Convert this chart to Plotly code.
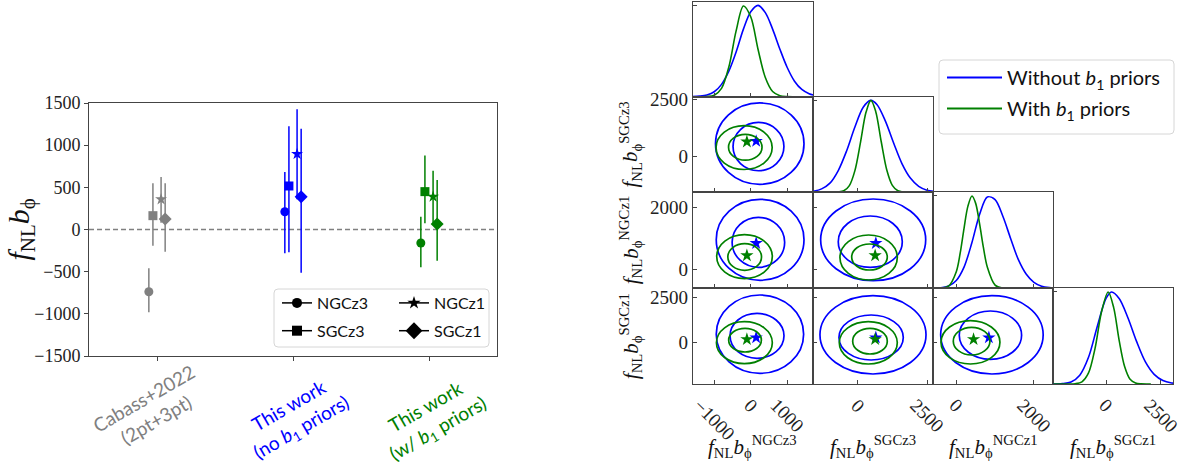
import plotly.graph_objects as go

# ---------------- data: left panel (f_NL b_phi estimates) ----------------
groups = ["Cabass+2022<br>(2pt+3pt)",
          "This work<br>(no <i>b</i><sub>1</sub> priors)",
          "This work<br>(w/ <i>b</i><sub>1</sub> priors)"]
samples = ["NGCz3", "SGCz3", "NGCz1", "SGCz1"]
# central values, one list per group, in the order of `samples`
fnl_cabass = [-738, 164, 358, 124]
fnl_noprior = [211, 516, 895, 389]
fnl_prior = [-160, 449, 389, 65]
# upper / lower ends of the error bars
hi_cabass = [-460, 548, 623, 548]
lo_cabass = [-982, -192, 80, -263]
hi_noprior = [682, 1224, 1426, 1195]
lo_noprior = [-283, -271, 360, -512]
hi_prior = [152, 876, 698, 587]
lo_prior = [-448, 73, 80, -370]
ytick_vals = [-1500, -1000, -500, 0, 500, 1000, 1500]
reference_level = 0

# ---------------- data: corner plot ----------------
params = ["NGCz3", "SGCz3", "NGCz1", "SGCz1"]
# 1D marginal posteriors (normalised to peak 1)
ngcz3_x_blue = [-1590, -1400, -1200, -1000, -800, -600, -400, -200, 0, 200, 400, 600, 800, 1000, 1200, 1400, 1600, 1715]
ngcz3_p_blue = [0.001, 0.006, 0.019, 0.054, 0.135, 0.28, 0.49, 0.74, 0.93, 1.0, 0.92, 0.74, 0.52, 0.32, 0.17, 0.079, 0.032, 0.018]
ngcz3_x_green = [-1590, -1400, -1200, -1000, -800, -600, -400, -200, 0, 200, 400, 600, 800, 1000, 1250]
ngcz3_p_green = [0.0, 0.0, 0.002, 0.016, 0.091, 0.325, 0.72, 0.993, 0.875, 0.52, 0.21, 0.057, 0.011, 0.001, 0.0]

sgcz3_x_blue = [-1600, -1300, -1000, -700, -400, -100, 200, 470, 700, 1000, 1300, 1600, 1900, 2200, 2500, 2727]
sgcz3_p_blue = [0.011, 0.037, 0.10, 0.237, 0.45, 0.71, 0.926, 1.0, 0.953, 0.774, 0.533, 0.31, 0.155, 0.065, 0.023, 0.010]
sgcz3_x_green = [-1600, -900, -700, -500, -300, -100, 100, 300, 478, 650, 850, 1050, 1250, 1450, 1650, 1850, 2400]
sgcz3_p_green = [0.0, 0.0, 0.003, 0.016, 0.073, 0.236, 0.54, 0.87, 1.0, 0.88, 0.55, 0.243, 0.076, 0.017, 0.003, 0.0, 0.0]

ngcz1_x_blue = [-592, -400, -200, 0, 200, 400, 600, 800, 1000, 1200, 1400, 1600, 1800, 2000, 2200, 2400, 2500]
ngcz1_p_blue = [0.001, 0.005, 0.024, 0.085, 0.23, 0.49, 0.80, 0.99, 0.96, 0.78, 0.54, 0.31, 0.155, 0.065, 0.023, 0.007, 0.004]
ngcz1_x_green = [-592, -400, -200, 0, 100, 200, 300, 405, 500, 600, 700, 800, 1000, 1200, 1400, 1750]
ngcz1_p_green = [0.0, 0.001, 0.023, 0.18, 0.38, 0.65, 0.89, 1.0, 0.92, 0.70, 0.44, 0.23, 0.035, 0.003, 0.0, 0.0]

sgcz1_x_blue = [-2410, -2000, -1600, -1200, -800, -400, 0, 250, 600, 1000, 1400, 1800, 2200, 2600, 3000, 3075]
sgcz1_p_blue = [0.0, 0.004, 0.022, 0.096, 0.29, 0.625, 0.93, 1.0, 0.93, 0.72, 0.46, 0.24, 0.105, 0.038, 0.011, 0.009]
sgcz1_x_green = [-2410, -1800, -1400, -1100, -800, -500, -200, 100, 350, 600, 850, 1100, 1350, 1600, 2050]
sgcz1_p_green = [0.0, 0.0, 0.003, 0.024, 0.12, 0.39, 0.79, 1.0, 0.83, 0.475, 0.19, 0.051, 0.01, 0.001, 0.0]

# 2D credible contours: [x_lo, x_hi, y_lo, y_hi] (outer then inner), keyed by (row, col)
contours_blue = {
    (1, 0): [[-965, 1460, -1250, 2340], [-485, 910, -650, 1480]],
    (2, 0): [[-945, 1460, -355, 2258], [-510, 930, 64, 1677]],
    (2, 1): [[-1335, 2453, -368, 2268], [-700, 1609, 64, 1719]],
    (3, 0): [[-945, 1450, -1674, 2609], [-567, 912, -853, 1600]],
    (3, 1): [[-1360, 2464, -1713, 2572], [-675, 1645, -947, 1515]],
    (3, 2): [[-402, 2239, -1713, 2572], [77, 1683, -908, 1734]],
}
contours_green = {
    (1, 0): [[-950, 588, -595, 1340], [-608, 310, -183, 955]],
    (2, 0): [[-932, 592, -300, 1118], [-627, 296, -34, 828]],
    (2, 1): [[-639, 1429, -345, 1106], [-216, 1068, -23, 816]],
    (3, 0): [[-940, 592, -1145, 1149], [-604, 292, -510, 788]],
    (3, 1): [[-663, 1429, -1165, 1149], [-180, 1068, -618, 788]],
    (3, 2): [[-394, 1125, -1165, 1204], [-77, 867, -673, 843]],
}
# best-fit points (stars)
best_blue = [149, 655, 840, 280]
best_green = [-105, 630, 445, 186]

corner_ticks = [[-1000, 0, 1000], [0, 2500], [0, 2000], [0, 2500]]
corner_xrange = [[-1590, 1715], [-1600, 2727], [-592, 2500], [-2410, 3075]]
corner_yrange = [None, [-1600, 2615], [-613, 2484], [-2260, 2976]]

# ---------------- styling ----------------
W, H = 1183, 465
GRAY, BLUE, GREEN = "#808080", "#0000ff", "#008000"
group_colors = [GRAY, BLUE, GREEN]
sample_symbols = ["circle", "square", "star", "diamond"]
sample_sizes = [9, 9, 9, 10]
legend_sizes = [10, 10, 10, 13]
sample_offsets = [-0.06, -0.03, 0.03, 0.06]
SERIF = "Liberation Serif, DejaVu Serif, serif"
SANS = "Lato, Open Sans, sans-serif"
SPINE = "#444444"


def px2x(px):
    return px / W


def px2y(py):
    return 1 - py / H


fig = go.Figure()

# ---------- left panel ----------
fnl = [fnl_cabass, fnl_noprior, fnl_prior]
his = [hi_cabass, hi_noprior, hi_prior]
los = [lo_cabass, lo_noprior, lo_prior]
for g in range(len(groups)):
    for s in range(len(samples)):
        v = fnl[g][s]
        fig.add_trace(go.Scatter(
            x=[g + sample_offsets[s]], y=[v], mode="markers",
            marker=dict(symbol=sample_symbols[s], size=sample_sizes[s], color=group_colors[g],
                        line=dict(width=0)),
            error_y=dict(type="data", symmetric=False, array=[his[g][s] - v],
                         arrayminus=[v - los[g][s]], color=group_colors[g], thickness=1.5, width=0),
            xaxis="x", yaxis="y", showlegend=False, hoverinfo="skip"))

# legend entries for the samples (two columns -> two legends)
for s in range(len(samples)):
    fig.add_trace(go.Scatter(
        x=[None], y=[None], mode="lines+markers", name=samples[s],
        marker=dict(symbol=sample_symbols[s], size=legend_sizes[s], color="black"),
        line=dict(color="black", width=1.5),
        xaxis="x", yaxis="y", legend="legend" if s < 2 else "legend2",
        legendgroup=samples[s], showlegend=True))

# ---------- corner plot ----------
LEFT = [692.7, 813.3, 933.3, 1053.3, 1173.3]
TOP = [1.7, 96.7, 192.3, 288.3, 384.0]

axis_id = {}
n = 2
for r in range(4):
    for c in range(r + 1):
        axis_id[(r, c)] = n
        n += 1

marg_x_blue = [ngcz3_x_blue, sgcz3_x_blue, ngcz1_x_blue, sgcz1_x_blue]
marg_p_blue = [ngcz3_p_blue, sgcz3_p_blue, ngcz1_p_blue, sgcz1_p_blue]
marg_x_green = [ngcz3_x_green, sgcz3_x_green, ngcz1_x_green, sgcz1_x_green]
marg_p_green = [ngcz3_p_green, sgcz3_p_green, ngcz1_p_green, sgcz1_p_green]

layout_axes = {}
for (r, c), k in axis_id.items():
    xa = dict(domain=[px2x(LEFT[c]), px2x(LEFT[c + 1])], range=corner_xrange[c],
              tickvals=corner_ticks[c], ticks="inside", ticklen=4, tickcolor=SPINE,
              showline=True, linecolor=SPINE, linewidth=1, mirror=True,
              showgrid=False, zeroline=False, showticklabels=False, anchor=f"y{k}")
    if r == c:
        ya = dict(range=[0, 1.04], tickvals=[0, 1], showticklabels=False)
    else:
        ya = dict(range=corner_yrange[r], tickvals=corner_ticks[r], showticklabels=(c == 0),
                  tickfont=dict(family=SERIF, size=19, color="#222"))
    ya.update(domain=[px2y(TOP[r + 1]), px2y(TOP[r])], ticks="inside", ticklen=4, tickcolor=SPINE,
              showline=True, linecolor=SPINE, linewidth=1, mirror=True,
              showgrid=False, zeroline=False, anchor=f"x{k}")
    layout_axes[f"xaxis{k}"] = xa
    layout_axes[f"yaxis{k}"] = ya

    if r == c:
        fig.add_trace(go.Scatter(x=marg_x_blue[c], y=marg_p_blue[c], mode="lines",
                                 line=dict(color=BLUE, width=1.6, shape="spline", smoothing=0.9),
                                 xaxis=f"x{k}", yaxis=f"y{k}", showlegend=False, hoverinfo="skip"))
        fig.add_trace(go.Scatter(x=marg_x_green[c], y=marg_p_green[c], mode="lines",
                                 line=dict(color=GREEN, width=1.6, shape="spline", smoothing=0.9),
                                 xaxis=f"x{k}", yaxis=f"y{k}", showlegend=False, hoverinfo="skip"))
    else:
        for col, cdict in ((BLUE, contours_blue), (GREEN, contours_green)):
            for x0, x1, y0, y1 in cdict[(r, c)]:
                fig.add_shape(type="circle", xref=f"x{k}", yref=f"y{k}",
                              x0=x0, x1=x1, y0=y0, y1=y1,
                              line=dict(color=col, width=1.7), layer="above")
        for col, best in ((BLUE, best_blue), (GREEN, best_green)):
            fig.add_trace(go.Scatter(x=[best[c]], y=[best[r]], mode="markers",
                                     marker=dict(symbol="star", size=10, color=col),
                                     xaxis=f"x{k}", yaxis=f"y{k}", showlegend=False,
                                     hoverinfo="skip"))

# legend entries for the corner plot
fig.add_trace(go.Scatter(x=[None], y=[None], mode="lines", name="Without <i>b</i><sub>1</sub> priors",
                         line=dict(color=BLUE, width=1.8), xaxis="x2", yaxis="y2",
                         legend="legend3", legendgroup="a"))
fig.add_trace(go.Scatter(x=[None], y=[None], mode="lines", name="With <i>b</i><sub>1</sub> priors",
                         line=dict(color=GREEN, width=1.8), xaxis="x2", yaxis="y2",
                         legend="legend3", legendgroup="b"))

annotations = []
# corner x tick labels (rotated, centred on the tick)
for c in range(4):
    k = axis_id[(3, c)]
    for t in corner_ticks[c]:
        annotations.append(dict(
            x=t, xref=f"x{k}", y=px2y(392), yref="paper", xanchor="center", yanchor="top",
            text=(f"\u2212{abs(t)}" if t < 0 else f"{t}"), textangle=45, showarrow=False,
            font=dict(family=SERIF, size=19, color="#222")))
    annotations.append(dict(
        x=0.5, xref=f"x{k} domain", y=px2y(446), yref="paper", xanchor="center", yanchor="middle",
        text=f"<i>f</i><sub>NL</sub><i>b</i><sub>\u03d5</sub><sup>{params[c]}</sup>",
        showarrow=False, font=dict(family=SERIF, size=21, color="#111")))
for r in range(1, 4):
    k = axis_id[(r, 0)]
    annotations.append(dict(
        x=px2x(630), xref="paper", y=0.5, yref=f"y{k} domain", xanchor="center", yanchor="middle",
        text=f"<i>f</i><sub>NL</sub><i>b</i><sub>\u03d5</sub><sup>{params[r]}</sup>", textangle=-90,
        showarrow=False, font=dict(family=SERIF, size=21, color="#111")))

# left panel category labels and y title
label_shift = [-7, 2, 3]
label_center_py = [409, 417, 418]
for g in range(len(groups)):
    annotations.append(dict(
        x=g, xref="x", xshift=label_shift[g], y=px2y(label_center_py[g]), yref="paper",
        xanchor="center", yanchor="middle", text=groups[g], textangle=-30, showarrow=False,
        font=dict(family=SANS, size=19, color=group_colors[g])))
annotations.append(dict(
    x=px2x(20), xref="paper", y=0.5, yref="y domain", xanchor="center", yanchor="middle",
    text="<i>f</i><sub>NL</sub><i>b</i><sub>\u03d5</sub>", textangle=-90, showarrow=False,
    font=dict(family=SERIF, size=30, color="#111")))


def rounded_box(x0, y0, x1, y1, rad=4):
    pts = []
    pts.append(f"M{px2x(x0 + rad)},{px2y(y0)}")
    pts.append(f"L{px2x(x1 - rad)},{px2y(y0)}")
    pts.append(f"Q{px2x(x1)},{px2y(y0)} {px2x(x1)},{px2y(y0 + rad)}")
    pts.append(f"L{px2x(x1)},{px2y(y1 - rad)}")
    pts.append(f"Q{px2x(x1)},{px2y(y1)} {px2x(x1 - rad)},{px2y(y1)}")
    pts.append(f"L{px2x(x0 + rad)},{px2y(y1)}")
    pts.append(f"Q{px2x(x0)},{px2y(y1)} {px2x(x0)},{px2y(y1 - rad)}")
    pts.append(f"L{px2x(x0)},{px2y(y0 + rad)}")
    pts.append(f"Q{px2x(x0)},{px2y(y0)} {px2x(x0 + rad)},{px2y(y0)} Z")
    return " ".join(pts)


fig.add_shape(type="path", xref="paper", yref="paper", path=rounded_box(274, 289, 489, 347),
              line=dict(color="#d6d6d6", width=1), fillcolor="rgba(255,255,255,0.8)", layer="above")
fig.add_shape(type="path", xref="paper", yref="paper", path=rounded_box(939, 60, 1174, 134),
              line=dict(color="#d6d6d6", width=1), fillcolor="rgba(255,255,255,0.8)", layer="above")

# zero reference line
fig.add_shape(type="line", xref="x domain", x0=0, x1=1, yref="y", y0=reference_level, y1=reference_level,
              line=dict(color=GRAY, width=1.3, dash="5px,3px"), layer="below")

fig.update_layout(
    width=W, height=H, margin=dict(l=0, r=0, t=0, b=0, autoexpand=False),
    paper_bgcolor="white", plot_bgcolor="rgba(0,0,0,0)",
    xaxis=dict(domain=[px2x(89), px2x(497)], range=[-0.5, 2.5], tickvals=[0, 1, 2],
               showticklabels=False, ticks="outside", ticklen=4, tickcolor=SPINE,
               showline=True, linecolor=SPINE, linewidth=1, mirror=True,
               showgrid=False, zeroline=False, anchor="y"),
    yaxis=dict(domain=[px2y(356), px2y(103)], range=[-1500, 1500], tickvals=ytick_vals,
               ticks="outside", ticklen=4, tickcolor=SPINE,
               tickfont=dict(family=SERIF, size=18, color="#222"),
               showline=True, linecolor=SPINE, linewidth=1, mirror=True,
               showgrid=False, zeroline=False, anchor="x"),
    legend=dict(x=px2x(277), y=px2y(286), xanchor="left", yanchor="top",
                bgcolor="rgba(0,0,0,0)", font=dict(family=SANS, size=16, color="#111"),
                tracegroupgap=4, traceorder="grouped"),
    legend2=dict(x=px2x(394), y=px2y(286), xanchor="left", yanchor="top",
                 bgcolor="rgba(0,0,0,0)", font=dict(family=SANS, size=16, color="#111"),
                 tracegroupgap=4, traceorder="grouped"),
    legend3=dict(x=px2x(942), y=px2y(58), xanchor="left", yanchor="top",
                 bgcolor="rgba(0,0,0,0)", font=dict(family=SANS, size=20, color="#111"),
                 tracegroupgap=2, traceorder="grouped", itemwidth=55),
    annotations=annotations,
    **layout_axes,
)

fig.write_html("out.html", config={"displayModeBar": False},
               post_script="document.body.style.margin='0px';document.body.style.overflow='hidden';")
